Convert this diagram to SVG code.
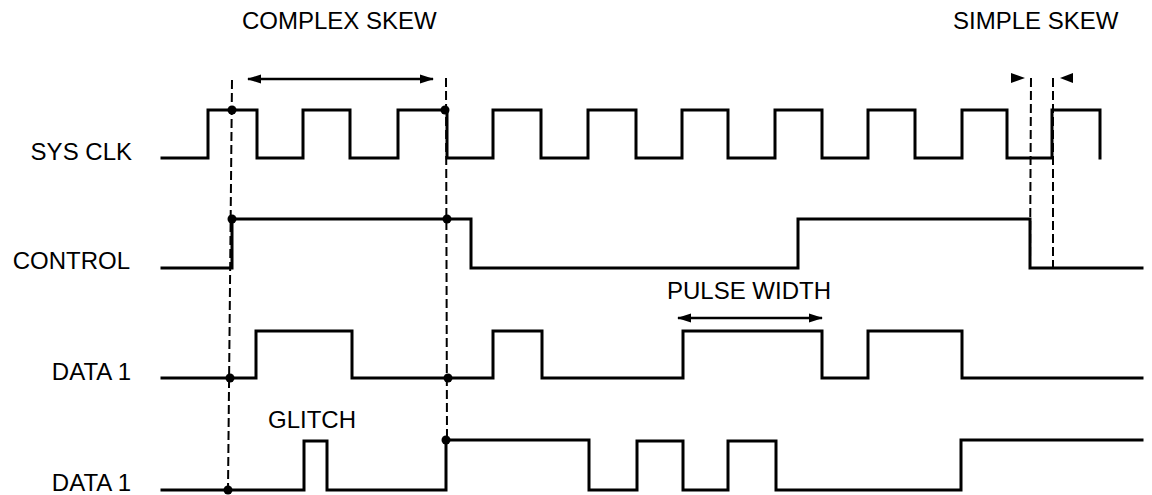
<svg xmlns="http://www.w3.org/2000/svg" width="1152" height="495" viewBox="0 0 1152 495">
<style>
  text { font-family: "Liberation Sans", Arial, sans-serif; font-size: 24px; fill: #000; }
  .sig { fill: none; stroke: #000; stroke-width: 3; stroke-linejoin: miter; stroke-linecap: square; }
  .dash { fill: none; stroke: #000; stroke-width: 2; stroke-dasharray: 9 4; }
  .arr { fill: none; stroke: #000; stroke-width: 2.5; }
  .dot { fill: #000; }
</style>
<defs>
  <marker id="ah" viewBox="0 0 14 10" refX="13" refY="5" markerWidth="14" markerHeight="10" markerUnits="userSpaceOnUse" orient="auto-start-reverse">
    <path d="M0,0.5 L14,5 L0,9.5 Z" fill="#000"/>
  </marker>
</defs>
<rect width="1152" height="495" fill="#fff"/>

<g id="labels">
  <text x="242" y="29">COMPLEX SKEW</text>
  <text x="953" y="29">SIMPLE SKEW</text>
  <text x="667" y="299">PULSE WIDTH</text>
  <text x="268" y="428">GLITCH</text>
</g>

<g id="sysclk">
  <text x="132" y="160" text-anchor="end">SYS CLK</text>
  <path class="sig" d="M162,158 H208 V110 H257 V158 H303 V110 H350 V158 H398 V110 H447 V158 H493 V110 H541 V158 H588 V110 H636 V158 H682 V110 H728 V158 H775 V110 H822 V158 H868 V110 H915 V158 H962 V110 H1007 V158 H1052 V110 H1100 V158"/>
</g>

<g id="control">
  <text x="130" y="269" text-anchor="end">CONTROL</text>
  <path class="sig" d="M162,268 H232 V219 H471 V268 H798 V219 H1030 V268 H1142"/>
</g>

<g id="data1a">
  <text x="131" y="380" text-anchor="end">DATA 1</text>
  <path class="sig" d="M162,378 H256 V331 H352 V378 H493 V331 H542 V378 H683 V331 H822 V378 H868 V331 H962 V378 H1142"/>
</g>

<g id="data1b">
  <text x="131" y="491" text-anchor="end">DATA 1</text>
  <path class="sig" d="M162,490 H304 V441 H327 V490 H446 V440 H589 V490 H637 V441 H683 V490 H728 V441 H776 V490 H961 V440 H1142"/>
</g>

<g id="connectors">
  <line class="dash" x1="232" y1="80" x2="228" y2="490"/>
  <line class="dash" x1="446" y1="78" x2="447" y2="440"/>
  <line class="dash" x1="1031" y1="78" x2="1030" y2="268"/>
  <line class="dash" x1="1053" y1="78" x2="1053" y2="268"/>
  <line class="arr" x1="248" y1="79" x2="433" y2="79" marker-start="url(#ah)" marker-end="url(#ah)"/>
  <line class="arr" x1="678" y1="318" x2="822" y2="318" marker-start="url(#ah)" marker-end="url(#ah)"/>
  <path d="M1011,73 L1025,78 L1011,83 Z" fill="#000"/>
  <path d="M1073,73 L1060,78 L1073,83 Z" fill="#000"/>
  <circle class="dot" cx="232" cy="110" r="4.5"/>
  <circle class="dot" cx="445" cy="110" r="4.5"/>
  <circle class="dot" cx="232" cy="219" r="4.5"/>
  <circle class="dot" cx="447" cy="219" r="4.5"/>
  <circle class="dot" cx="230" cy="378" r="4.5"/>
  <circle class="dot" cx="448" cy="378" r="4.5"/>
  <circle class="dot" cx="228" cy="490" r="4.5"/>
  <circle class="dot" cx="446" cy="440" r="4.5"/>
</g>
</svg>
